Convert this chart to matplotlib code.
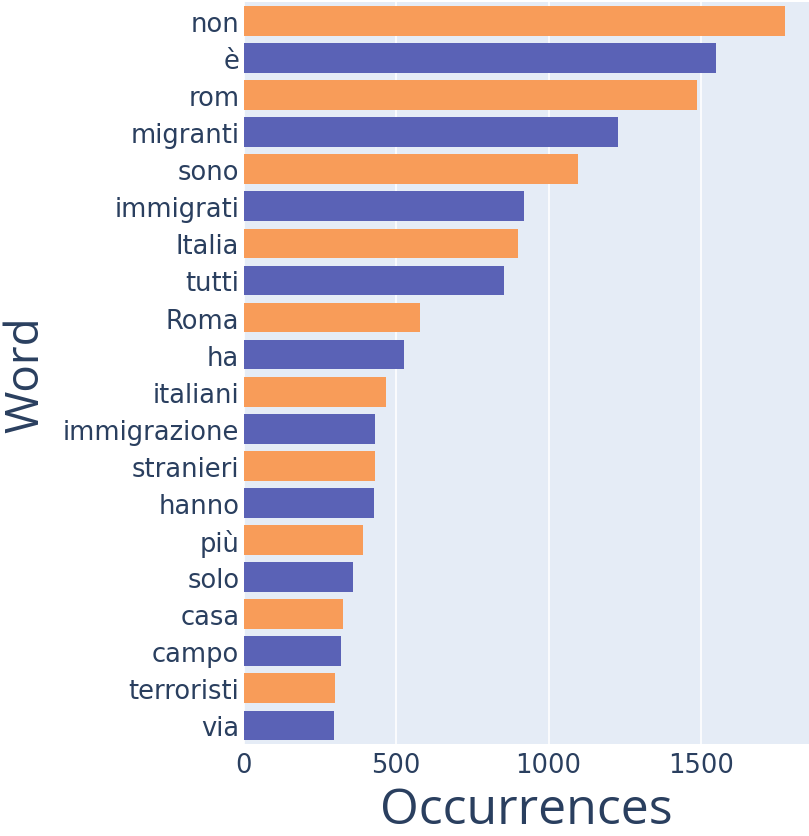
import matplotlib
matplotlib.use("Agg")
from matplotlib import pyplot as plt

# word counts, top to bottom
words = ["non", "è", "rom", "migranti", "sono", "immigrati", "Italia", "tutti",
         "Roma", "ha", "italiani", "immigrazione", "stranieri", "hanno", "più",
         "solo", "casa", "campo", "terroristi", "via"]
counts = [1775, 1549, 1487, 1228, 1097, 920, 900, 854,
          580, 526, 467, 432, 430, 428, 393,
          358, 327, 318, 301, 297]
colors = ["#f89c59", "#5a62b6"]  # orange / blue alternating

plt.rcParams['font.family'] = ['DejaVu Sans']
text_col = "#2a3f5f"

fig = plt.figure(figsize=(8.09, 8.37), dpi=100)
ax = fig.add_axes([0.301, 0.110, 0.699, 0.886])
ax.set_facecolor("#e5ecf6")

bar_cols = [colors[i % 2] for i in range(len(words))]
ax.barh(range(len(words)), counts, height=0.8, color=bar_cols, zorder=3)

ax.set_ylim(len(words) - 0.5, -0.5)
ax.set_xlim(0, 1854)
ax.set_yticks(range(len(words)))
ax.set_yticklabels(words)
ax.set_xticks([0, 500, 1000, 1500])
ax.tick_params(axis='both', length=0, labelsize=18.5, colors=text_col, pad=3)
ax.tick_params(axis='x', pad=6)
ax.grid(True, axis='x', color='white', linewidth=1.2, zorder=0)
for s in ax.spines.values():
    s.set_visible(False)

ax.set_xlabel("Occurrences", fontsize=36, color=text_col, labelpad=5,
              family=['Open Sans', 'DejaVu Sans'])
ax.set_ylabel("Word", fontsize=33, color=text_col, labelpad=10,
              family=['Open Sans', 'DejaVu Sans'])

fig.savefig("out.png", dpi=100)
